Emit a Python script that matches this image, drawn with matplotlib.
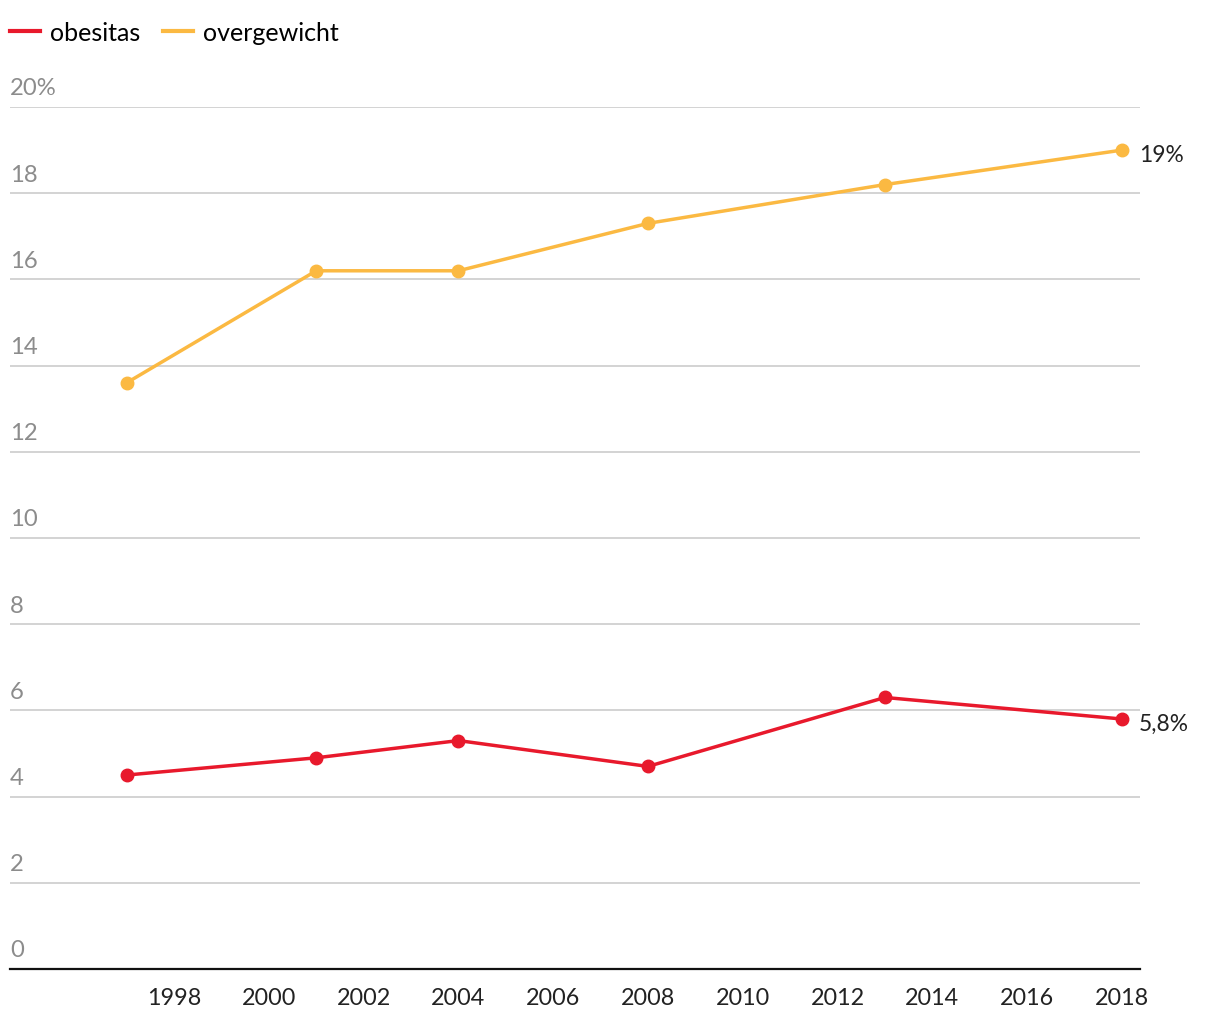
import matplotlib
matplotlib.use("Agg")
import matplotlib.pyplot as plt
import matplotlib.transforms as mtransforms
from matplotlib.lines import Line2D

plt.rcParams["font.family"] = ["Lato", "DejaVu Sans"]

# data
years = [1997, 2001, 2004, 2008, 2013, 2018]
obesitas = [4.5, 4.9, 5.3, 4.7, 6.3, 5.8]
overgewicht = [13.6, 16.2, 16.2, 17.3, 18.2, 19.0]
y_ticks = [0, 2, 4, 6, 8, 10, 12, 14, 16, 18, 20]
x_ticks = [1998, 2000, 2002, 2004, 2006, 2008, 2010, 2012, 2014, 2016, 2018]
end_labels = ["5,8%", "19%"]

RED = "#e8192c"
ORANGE = "#fbb942"
GRID = "#cccccc"
LABEL_GRAY = "#8c8c8c"

W, H = 1220, 1020
fig = plt.figure(figsize=(W / 100, H / 100), dpi=100)
ax = fig.add_axes([10 / W, 1 - 970 / H, 1130 / W, (970 - 108) / H])

ax.plot(years, overgewicht, color=ORANGE, lw=2.5, marker="o", ms=9, zorder=4)
ax.plot(years, obesitas, color=RED, lw=2.5, marker="o", ms=9, zorder=4)

ax.set_xlim(1994.54, 2018.38)
ax.set_ylim(0, 20)

for s in ["top", "right", "left"]:
    ax.spines[s].set_visible(False)
ax.spines["bottom"].set_linewidth(1.6)
ax.spines["bottom"].set_color("#111111")

for t in y_ticks[1:]:
    ax.axhline(t, color=GRID, lw=1.2, zorder=1)

ax.set_yticks([])
ax.set_xticks(x_ticks)
ax.tick_params(axis="x", length=0, pad=13, labelsize=16.8, labelcolor="#222222")

# y labels sit above the gridline at the left edge
trans = mtransforms.blended_transform_factory(ax.transAxes, ax.transData)
for t in y_ticks:
    lab = f"{t}%" if t == 20 else str(t)
    ax.text(0, t + 0.2, lab, transform=trans, ha="left", va="bottom",
            fontsize=17.2, color=LABEL_GRAY)

# end labels
ax.annotate(end_labels[0], (years[-1], obesitas[-1]), xytext=(12, -3),
            textcoords="offset points", ha="left", va="center",
            fontsize=16.4, color="#222222")
ax.annotate(end_labels[1], (years[-1], overgewicht[-1]), xytext=(12, -3),
            textcoords="offset points", ha="left", va="center",
            fontsize=16.4, color="#222222")

handles = [Line2D([0], [0], color=RED, lw=3),
           Line2D([0], [0], color=ORANGE, lw=3)]
fig.legend(handles, ["obesitas", "overgewicht"], loc="upper left",
           bbox_to_anchor=(0.0, 1 - 12 / H), ncol=2, frameon=False, fontsize=18,
           handlelength=1.2, handletextpad=0.4, columnspacing=0.9,
           borderaxespad=0, borderpad=0.4)

fig.savefig("out.png", dpi=100, facecolor="white")
